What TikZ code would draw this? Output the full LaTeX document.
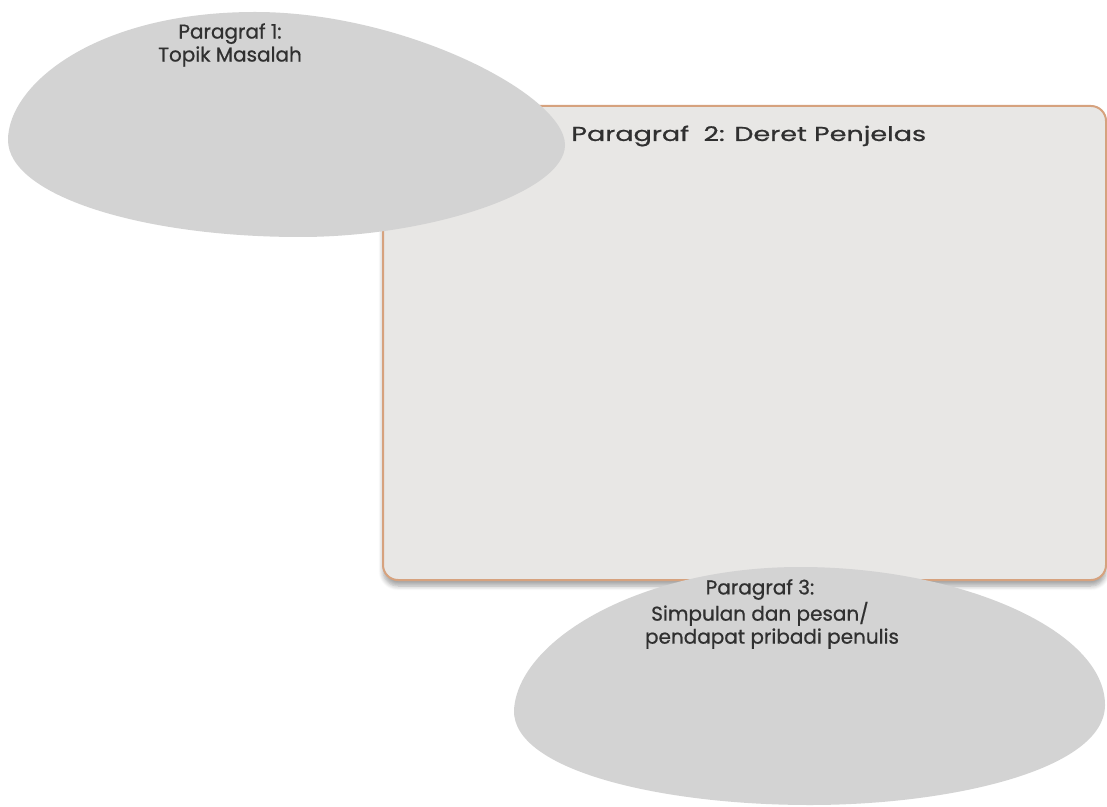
\documentclass[tikz,border=0pt]{standalone}
\usepackage{fontspec}
\setmainfont{Poppins}
\newfontfamily\capfont[FakeBold=0.7]{Poppins}
\usepackage{tikz}
\usetikzlibrary{shadows.blur}
\usepackage{xcolor}
\usepackage{graphicx}
\definecolor{blobgray}{HTML}{D3D3D3}
\definecolor{boxfill}{HTML}{E8E7E5}
\definecolor{boxline}{HTML}{D6A27E}
\definecolor{inkgray}{HTML}{303030}

\begin{document}
\begin{tikzpicture}[
    x = 0.5pt, y = -0.5pt,
    blob/.style = {fill = blobgray, draw = none},
    panel/.style = {
        fill = boxfill, draw = boxline, line width = 1pt,
        rounded corners = 7.5pt,
        blur shadow = {shadow xshift = 0pt, shadow yshift = -3pt,
            shadow blur steps = 6, shadow opacity = 35}
    },
    caption/.style = {text = inkgray, font = \capfont\fontsize{10}{11.5}\selectfont,
        align = center, inner sep = 0pt}
]
\useasboundingbox (0,0) rectangle (1107,807);

\draw[panel] (383,106) rectangle (1106,580);

% Paragraf 1 blob
\fill[blob] (8,140) .. controls (8,85) and (95,12) .. (255,12)
    .. controls (405,12) and (565,95) .. (565,145)
    .. controls (565,192) and (430,237) .. (300,237)
    .. controls (140,237) and (8,195) .. (8,140) -- cycle;

% Paragraf 3 blob
\fill[blob] (514,710) .. controls (518,640) and (640,567) .. (800,567)
    .. controls (960,567) and (1105,630) .. (1105,705)
    .. controls (1105,770) and (950,805) .. (810,805)
    .. controls (660,805) and (512,770) .. (514,710) -- cycle;

\node[caption] (topik) at (230,45) {Paragraf 1:\\Topik Masalah};
\node[caption, anchor = west] (deret) at (571,136)
    {\scalebox{1.35}[1]{Paragraf\ \ 2: Deret Penjelas}};
\node[caption] (simpulan) at (760,614)
    {Paragraf 3:\\Simpulan dan pesan/\\\hspace{1.2em}pendapat pribadi penulis};

\end{tikzpicture}
\end{document}
